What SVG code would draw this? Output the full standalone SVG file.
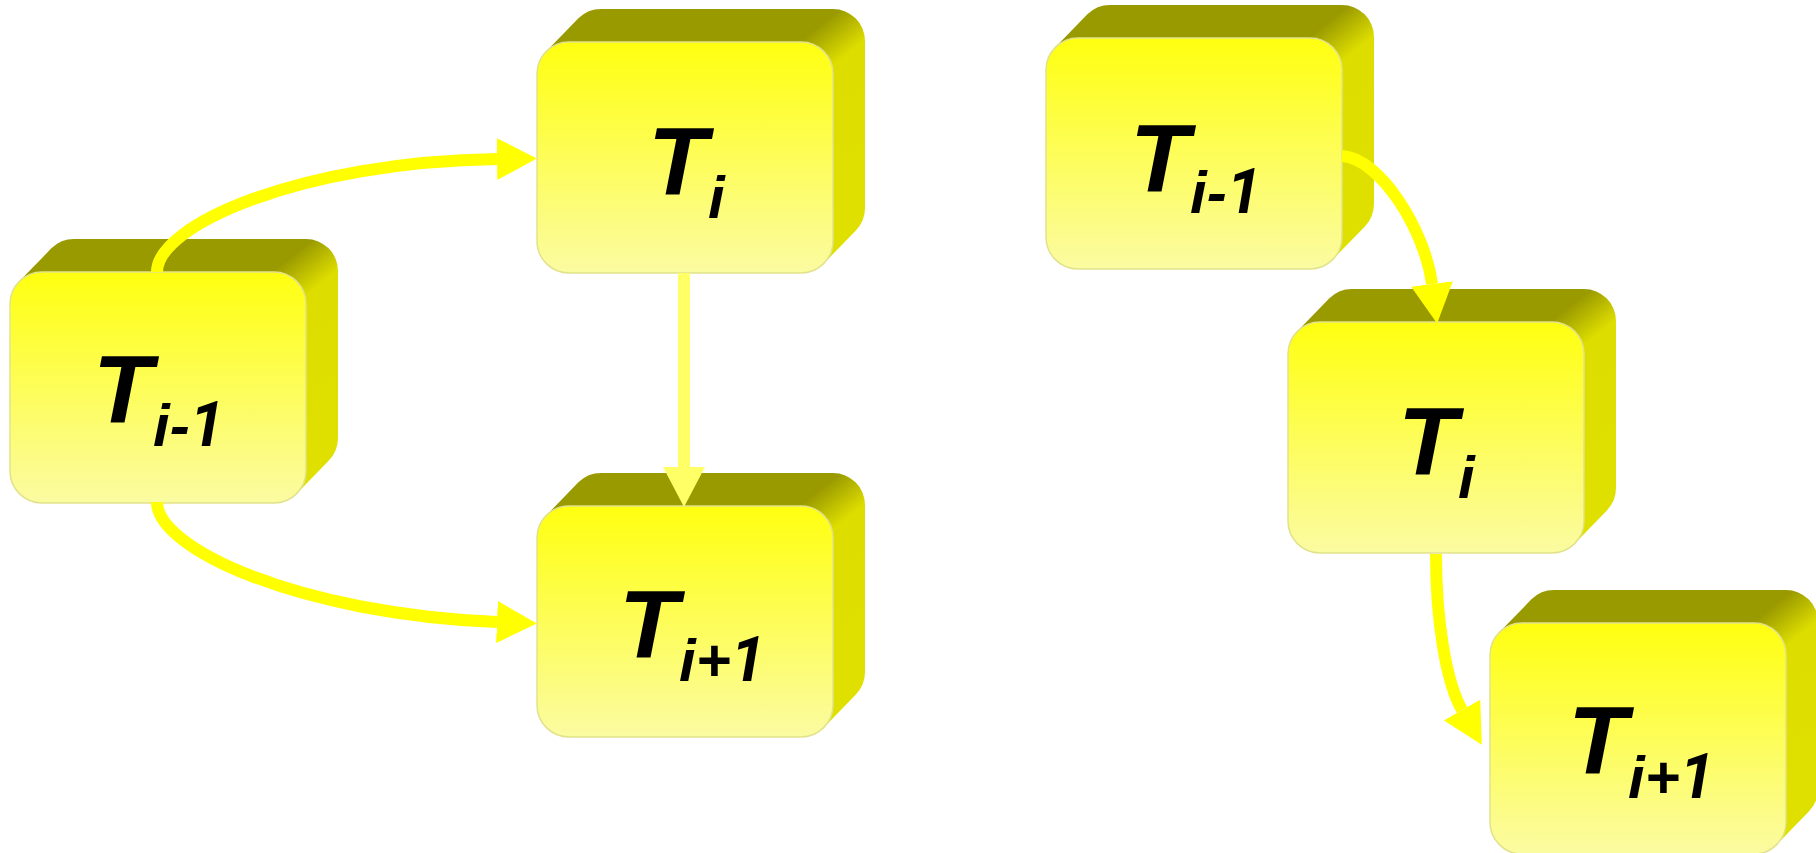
<svg xmlns="http://www.w3.org/2000/svg" xmlns:xlink="http://www.w3.org/1999/xlink" width="1816" height="853" viewBox="0 0 1816 853">
<style>
.lbl{font-family:"Liberation Sans",Arial,sans-serif;font-style:italic;font-weight:bold;font-size:97px;fill:#000}
.sub{font-size:60px}
.one{font-family:Roboto,"Liberation Sans",Arial,sans-serif;font-size:62px}
.con{fill:none;stroke:#ffff00;stroke-width:12;marker-end:url(#ah)}
.conL{fill:none;stroke:#ffff66;stroke-width:12;marker-end:url(#ahL)}
</style>
<defs>
<linearGradient id="gFront" x1="0" y1="0" x2="0" y2="1">
<stop offset="0" stop-color="#ffff10"/>
<stop offset="1" stop-color="#fbfba2"/>
</linearGradient>
<linearGradient id="gSide" x1="0" y1="0" x2="1" y2="1">
<stop offset="0" stop-color="#c0c000"/>
<stop offset="0.07" stop-color="#999900"/>
<stop offset="0.46" stop-color="#999900"/>
<stop offset="0.5" stop-color="#b4b400"/>
<stop offset="0.56" stop-color="#dddd00"/>
<stop offset="1" stop-color="#e0e000"/>
</linearGradient>
<marker id="ah" markerUnits="userSpaceOnUse" markerWidth="40" markerHeight="42" viewBox="0 0 38 40" refX="0" refY="20" orient="auto">
<path d="M0,0 L38,20 L0,40 Z" fill="#ffff00"/>
</marker>
<marker id="ahL" markerUnits="userSpaceOnUse" markerWidth="40" markerHeight="42" viewBox="0 0 38 40" refX="0" refY="20" orient="auto">
<path d="M0,0 L38,20 L0,40 Z" fill="#ffff66"/>
</marker>
<g id="box">
<path d="M9.37,9.37 L41.37,-23.63 A32,32 0 0 1 64,-33 L296,-33 A32,32 0 0 1 328,-1 L328,166 A32,32 0 0 1 318.63,188.63 L286.63,221.63 L148,115.5 Z" fill="url(#gSide)"/>
<rect x="0" y="0" width="296" height="231" rx="32" ry="32" fill="url(#gFront)" stroke="#e2e28c" stroke-width="1.5"/>
</g>
</defs>
<rect width="1816" height="853" fill="#ffffff"/>
<g id="n1" transform="translate(10,272)">
<use xlink:href="#box"/>
<text class="lbl" x="83" y="151">T<tspan class="sub" x="143" y="174">i-<tspan class="one">1</tspan></tspan></text>
</g>
<g id="n2" transform="translate(537,42)">
<use xlink:href="#box"/>
<text class="lbl" x="111" y="153">T<tspan class="sub" x="171" y="176">i</tspan></text>
</g>
<g id="n3" transform="translate(537,506)">
<use xlink:href="#box"/>
<text class="lbl" x="82" y="152">T<tspan class="sub" x="142" y="175">i+<tspan class="one">1</tspan></tspan></text>
</g>
<g id="n4" transform="translate(1046,38)">
<use xlink:href="#box"/>
<text class="lbl" x="84" y="154">T<tspan class="sub" x="144" y="175">i-<tspan class="one">1</tspan></tspan></text>
</g>
<g id="n5" transform="translate(1288,322)">
<use xlink:href="#box"/>
<text class="lbl" x="110" y="153">T<tspan class="sub" x="170" y="176">i</tspan></text>
</g>
<g id="n6" transform="translate(1490,623)">
<use xlink:href="#box"/>
<text class="lbl" x="78" y="151">T<tspan class="sub" x="138" y="175">i+<tspan class="one">1</tspan></tspan></text>
</g>
<g id="connectors">
<path class="con" d="M157,272 C157,225 300,162 497,159"/>
<path class="con" d="M157,502 C157,549 300,614 497,622"/>
<path class="conL" d="M684,273 L684,467"/>
<path class="con" d="M1342,156 C1380,158 1425,230 1432,284"/>
<path class="con" d="M1436,554 C1436,620 1446,682 1462,710"/>
</g>
</svg>
